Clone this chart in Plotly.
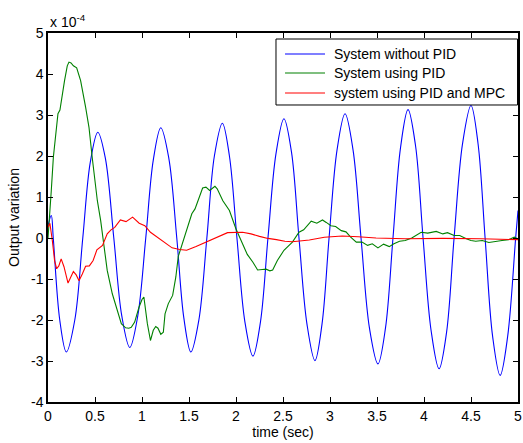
import plotly.graph_objects as go

# values in units of 1e-4
blue_t = [0.0, 0.035, 0.056, 0.125, 0.195, 0.285, 0.37, 0.45, 0.53, 0.61, 0.70, 0.785, 0.87, 0.955,
          1.04, 1.12, 1.20, 1.285, 1.37, 1.445, 1.52, 1.605, 1.69, 1.77, 1.855, 1.93, 2.01, 2.095,
          2.18, 2.26, 2.34, 2.425, 2.51, 2.59, 2.67, 2.755, 2.84, 2.915, 2.99, 3.075, 3.16, 3.245,
          3.33, 3.42, 3.51, 3.59, 3.67, 3.75, 3.83, 3.91, 3.99, 4.075, 4.16, 4.24, 4.32, 4.41,
          4.50, 4.575, 4.65, 4.73, 4.81, 4.89, 4.975, 5.0]
blue_y = [0.30, 0.55, 0.0, -2.0, -2.78, -2.0, 0.0, 1.85, 2.58, 1.95, 0.0, -1.9, -2.67, -1.9,
          0.0, 1.9, 2.69, 1.95, 0.0, -1.95, -2.78, -2.0, 0.0, 2.0, 2.80, 2.0, 0.0, -2.05,
          -2.88, -2.05, 0.0, 2.05, 2.91, 2.1, 0.0, -2.1, -2.99, -2.1, 0.0, 2.15, 3.03, 2.15,
          0.0, -2.2, -3.07, -2.2, 0.0, 2.2, 3.13, 2.25, 0.0, -2.25, -3.19, -2.3, 0.0, 2.3,
          3.23, 2.3, 0.0, -2.4, -3.35, -2.4, 0.0, 0.67]

green_t = [0.0, 0.02, 0.035, 0.057, 0.08, 0.106, 0.127, 0.15, 0.176, 0.205, 0.223, 0.245, 0.27,
           0.305, 0.347, 0.40, 0.436, 0.47, 0.50, 0.525, 0.56, 0.60, 0.63, 0.684, 0.737, 0.78,
           0.826, 0.86, 0.886, 0.922, 0.968, 1.0, 1.02, 1.057, 1.09, 1.12, 1.146, 1.17, 1.2,
           1.227, 1.245, 1.28, 1.326, 1.36, 1.386, 1.42, 1.475, 1.53, 1.564, 1.61, 1.645, 1.68,
           1.72, 1.776, 1.80, 1.86, 1.93, 2.0, 2.07, 2.12, 2.18, 2.23, 2.28, 2.32, 2.36, 2.39,
           2.44, 2.51, 2.60, 2.67, 2.72, 2.80, 2.86, 2.92, 2.96, 3.01, 3.06, 3.12, 3.17, 3.22,
           3.28, 3.34, 3.40, 3.45, 3.51, 3.57, 3.63, 3.68, 3.74, 3.80, 3.87, 3.92, 3.97, 4.04,
           4.13, 4.2, 4.25, 4.32, 4.38, 4.45, 4.50, 4.55, 4.62, 4.69, 4.76, 4.83, 4.90, 4.96, 5.0]
green_y = [0.0, 0.6, 1.16, 1.97, 2.5, 3.03, 3.12, 3.5, 3.84, 4.2, 4.29, 4.27, 4.2,
           4.15, 3.84, 3.19, 2.70, 1.97, 1.4, 0.91, 0.43, -0.22, -0.79, -1.36, -1.77, -2.09,
           -2.19, -2.2, -2.18, -2.05, -1.69, -1.5, -1.44, -2.09, -2.50, -2.25, -2.16, -2.2, -2.35,
           -2.3, -1.85, -1.6, -1.4, -0.95, -0.45, -0.2, 0.15, 0.59, 0.71, 1.0, 1.22, 1.24,
           1.16, 1.26, 1.2, 0.91, 0.67, 0.22, -0.14, -0.40, -0.59, -0.78, -0.77, -0.76, -0.80, -0.78,
           -0.55, -0.30, -0.10, 0.14, 0.2, 0.41, 0.36, 0.44, 0.38, 0.30, 0.28, 0.18, 0.15, 0.02,
           -0.10, -0.10, -0.18, -0.14, -0.24, -0.15, -0.21, -0.14, -0.08, -0.06, 0.0, 0.06, 0.14, 0.12,
           0.16, 0.1, 0.13, 0.06, 0.06, -0.02, -0.06, -0.08, -0.06, -0.11, -0.08, -0.06, -0.04, 0.02, -0.02]

red_t = [0.0, 0.02, 0.046, 0.07, 0.092, 0.115, 0.14, 0.17, 0.213, 0.24, 0.27, 0.30, 0.33, 0.365,
         0.40, 0.44, 0.48, 0.52, 0.58, 0.63, 0.67, 0.71, 0.77, 0.83, 0.90, 0.97, 1.03, 1.09,
         1.16, 1.23, 1.32, 1.40, 1.475, 1.575, 1.66, 1.75, 1.83, 1.91, 2.07, 2.16, 2.25, 2.34,
         2.43, 2.52, 2.60, 2.70, 2.78, 2.94, 3.13, 3.30, 3.49, 3.8, 4.2, 4.6, 5.0]
red_y = [0.26, 0.36, -0.06, -0.55, -0.75, -0.68, -0.51, -0.7, -1.10, -0.95, -0.82, -0.9, -1.04, -0.88,
         -0.69, -0.68, -0.55, -0.29, -0.18, 0.10, 0.2, 0.26, 0.44, 0.40, 0.51, 0.36, 0.30, 0.14,
         0.02, -0.10, -0.24, -0.28, -0.30, -0.21, -0.12, -0.02, 0.06, 0.13, 0.14, 0.10, 0.04, -0.01,
         -0.04, -0.08, -0.09, -0.07, -0.05, 0.02, 0.05, 0.03, 0.0, -0.02, -0.01, -0.02, -0.04]

series_names = ["System without PID", "System using PID", "system using PID and MPC"]
series_colors = ["#0000FF", "#008000", "#FF0000"]

x_ticks = [0, 0.5, 1, 1.5, 2, 2.5, 3, 3.5, 4, 4.5, 5]
x_tick_labels = ["0", "0.5", "1", "1.5", "2", "2.5", "3", "3.5", "4", "4.5", "5"]
y_ticks = [-4, -3, -2, -1, 0, 1, 2, 3, 4, 5]
y_tick_labels = ["-4", "-3", "-2", "-1", "0", "1", "2", "3", "4", "5"]

FONT = "Liberation Sans, Arial, sans-serif"

fig = go.Figure()
fig.add_trace(go.Scatter(x=blue_t, y=blue_y, mode="lines", name=series_names[0],
                         line=dict(color=series_colors[0], width=1.1, shape="spline", smoothing=1.0)))
fig.add_trace(go.Scatter(x=green_t, y=green_y, mode="lines", name=series_names[1],
                         line=dict(color=series_colors[1], width=1.1)))
fig.add_trace(go.Scatter(x=red_t, y=red_y, mode="lines", name=series_names[2],
                         line=dict(color=series_colors[2], width=1.1)))

axis_common = dict(showgrid=False, zeroline=False, showline=True, linecolor="black", linewidth=1.5,
                   mirror="ticks", ticks="inside", ticklen=5, tickcolor="black", tickwidth=1,
                   tickfont=dict(family=FONT, size=14, color="black"))

# legend box drawn in paper coordinates (MATLAB-style legend)
shapes = [dict(type="rect", xref="paper", yref="paper", x0=0.4851, x1=0.999, y0=0.8049, y1=0.9837,
               line=dict(color="black", width=1), fillcolor="white", layer="above")]
annotations = [dict(text="x 10<sup>-4</sup>", xref="paper", yref="paper", x=0, y=1,
                    xanchor="left", yanchor="bottom", showarrow=False, yshift=1,
                    font=dict(family=FONT, size=14))]
legend_rows = [0.9431, 0.8916, 0.8374]
for name, color, ry in zip(series_names, series_colors, legend_rows):
    shapes.append(dict(type="line", xref="paper", yref="paper", x0=0.5043, x1=0.5894, y0=ry, y1=ry,
                       line=dict(color=color, width=1.1), layer="above"))
    annotations.append(dict(text=name, xref="paper", yref="paper", x=0.6043, y=ry,
                            xanchor="left", yanchor="middle", showarrow=False,
                            font=dict(family=FONT, size=14, color="black")))

fig.update_layout(
    width=523, height=443,
    paper_bgcolor="white", plot_bgcolor="white",
    margin=dict(l=48, r=5, t=33, b=41),
    font=dict(family=FONT, size=14, color="black"),
    xaxis=dict(range=[0, 5], tickvals=x_ticks, ticktext=x_tick_labels,
               title=dict(text="time (sec)", font=dict(family=FONT, size=14), standoff=2),
               automargin=False, **axis_common),
    yaxis=dict(range=[-4, 5], tickvals=y_ticks, ticktext=y_tick_labels,
               title=dict(text="Output variation", font=dict(family=FONT, size=14), standoff=8),
               automargin=False, **axis_common),
    showlegend=False,
    shapes=shapes,
    annotations=annotations,
)

fig.write_html("out.html", config={"displayModeBar": False},
               post_script="document.body.style.margin='0';document.body.style.padding='0';document.body.style.overflow='hidden';")
